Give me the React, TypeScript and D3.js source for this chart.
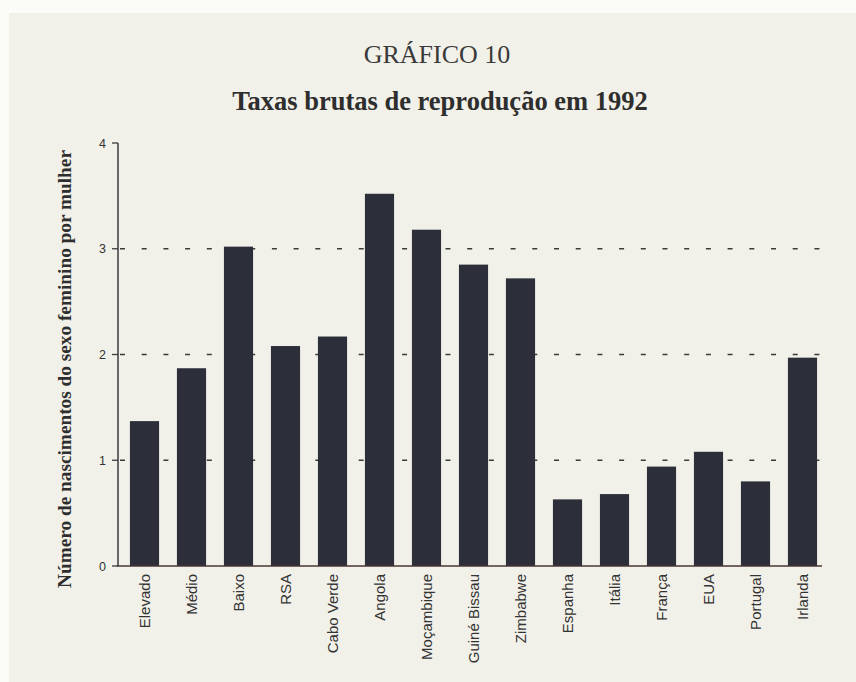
import React from "react";
import * as d3 from "d3";

const categories = [
  "Elevado", "Médio", "Baixo", "RSA", "Cabo Verde", "Angola", "Moçambique",
  "Guiné Bissau", "Zimbabwe", "Espanha", "Itália", "França", "EUA", "Portugal", "Irlanda",
];
const values = [1.37, 1.87, 3.02, 2.08, 2.17, 3.52, 3.18, 2.85, 2.72, 0.63, 0.68, 0.94, 1.08, 0.8, 1.97];
const yTicks = [0, 1, 2, 3, 4];
const gridValues = [1, 2, 3];
const titleLine1 = "GRÁFICO 10";
const titleLine2 = "Taxas brutas de reprodução em 1992";
const yLabel = "Número de nascimentos do sexo feminino por mulher";

export default function App() {
  const W = 856, H = 682;
  const x = d3.scaleBand<string>().domain(categories).range([121, 826]).paddingInner(0.38).paddingOuter(0.19);
  const y = d3.scaleLinear().domain([0, 4]).range([566, 143]);
  const barColor = "#2c2e39";
  const serif = "'Liberation Serif', 'Times New Roman', serif";
  const sans = "'Liberation Sans', Arial, sans-serif";
  return (
    <svg width={W} height={H} style={{ position: "absolute", left: 0, top: 0, display: "block" }}>
      <rect x={0} y={0} width={W} height={H} fill="#fbfbf8" />
      <rect x={9} y={13} width={W - 9} height={H - 13} fill="#f2f1e9" />
      <text x={437} y={63} textAnchor="middle" fontFamily={serif} fontSize={26} fill="#3a3a3a">{titleLine1}</text>
      <text x={440} y={110} textAnchor="middle" fontFamily={serif} fontSize={26.5} fontWeight="bold" fill="#2e2e2e">{titleLine2}</text>
      {gridValues.map((g) => (
        <line key={g} x1={118} x2={822} y1={y(g)} y2={y(g)} stroke="#3a3a3a" strokeWidth={1.5} strokeDasharray="5 16.7" strokeDashoffset={-2} />
      ))}
      {categories.map((c, i) => (
        <rect key={c} x={x(c)!} y={y(values[i])} width={x.bandwidth()} height={y(0) - y(values[i])} fill={barColor} />
      ))}
      <line x1={118} x2={118} y1={y(4)} y2={y(0)} stroke="#3a3a40" strokeWidth={1.5} />
      <line x1={117} x2={822} y1={y(0)} y2={y(0)} stroke="#4a3434" strokeWidth={1.6} />
      {yTicks.map((t) => (
        <g key={t}>
          <line x1={112} x2={118} y1={y(t)} y2={y(t)} stroke="#3a3a40" strokeWidth={1.3} />
          <text x={106} y={y(t) + 4.5} textAnchor="end" fontFamily={sans} fontSize={12.5} fill="#333">{t}</text>
        </g>
      ))}
      {categories.map((c) => {
        const cx = x(c)! + x.bandwidth() / 2 + 5;
        return (
          <text key={c} transform={`translate(${cx},574) rotate(-90)`} textAnchor="end" fontFamily={sans} fontSize={15} fill="#333">{c}</text>
        );
      })}
      <text transform={`translate(71,369) rotate(-90)`} textAnchor="middle" fontFamily={serif} fontSize={19.3} fontWeight="bold" fill="#2e2e2e">{yLabel}</text>
    </svg>
  );
}
